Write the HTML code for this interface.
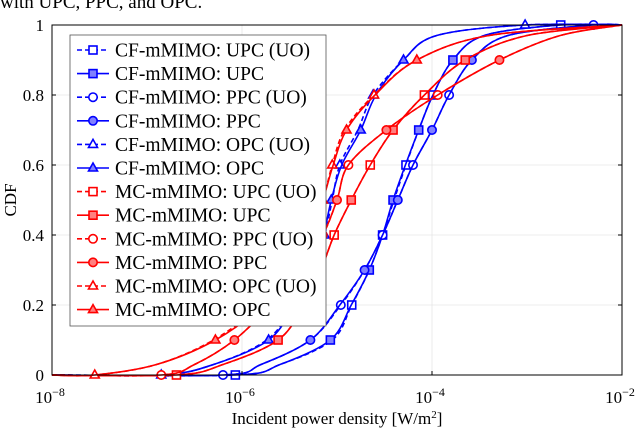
<!DOCTYPE html>
<html><head><meta charset="utf-8"><style>
body{margin:0;background:#fff;width:640px;height:433px;overflow:hidden}
svg text{font-family:"Liberation Serif",serif;fill:#000}
</style></head><body>
<svg id="chart" width="640" height="433" viewBox="0 0 640 433" xmlns="http://www.w3.org/2000/svg">
<text x="0" y="8" font-size="19">with UPC, PPC, and OPC.</text>
<g id="grid"></g>
<g id="series"></g>
<rect x="52" y="25" width="570" height="350" fill="none" stroke="#000" stroke-width="1"/>
<g id="axes"></g>
<text x="337" y="424" font-size="17" text-anchor="middle">Incident power density [W/m<tspan font-size="11" dy="-6">2</tspan><tspan dy="6">]</tspan></text>
<text x="0" y="0" font-size="17" text-anchor="middle" transform="translate(16,200) rotate(-90)">CDF</text>
<g id="legend"></g>
</svg>
<script>
const levels=[0,0.03,0.1,0.2,0.3,0.4,0.5,0.6,0.7,0.8,0.9,0.97,1];
const seriesNames=["CF-mMIMO: UPC (UO)","CF-mMIMO: UPC","CF-mMIMO: PPC (UO)","CF-mMIMO: PPC","CF-mMIMO: OPC (UO)","CF-mMIMO: OPC","MC-mMIMO: UPC (UO)","MC-mMIMO: UPC","MC-mMIMO: PPC (UO)","MC-mMIMO: PPC","MC-mMIMO: OPC (UO)","MC-mMIMO: OPC"];
const cfUpcUO=[-6.07,-5.6,-5.05,-4.845,-4.66,-4.52,-4.40,-4.274,-4.14,-3.99,-3.78,-3.45,-2.645];
const cfUpc=[-6.07,-5.6,-5.07,-4.85,-4.66,-4.52,-4.41,-4.28,-4.14,-3.99,-3.78,-3.45,-2.645];
const cfPpcUO=[-6.2,-5.8,-5.28,-4.96,-4.71,-4.52,-4.36,-4.2,-4.0,-3.82,-3.58,-3.2,-2.3];
const cfPpc=[-6.2,-5.8,-5.28,-4.97,-4.71,-4.52,-4.36,-4.2,-4.0,-3.82,-3.58,-3.2,-2.3];
const cfOpcUO=[-6.85,-6.3,-5.74,-5.45,-5.25,-5.13,-5.05,-4.97,-4.78,-4.62,-4.3,-3.95,-3.02];
const cfOpc=[-6.85,-6.3,-5.72,-5.45,-5.24,-5.14,-5.06,-4.95,-4.75,-4.59,-4.3,-3.95,-3.02];
const mcUpcUO=[-6.69,-6.2,-5.62,-5.35,-5.17,-5.03,-4.85,-4.65,-4.41,-4.08,-3.65,-3.0,-2.0];
const mcUpc=[-6.69,-6.2,-5.62,-5.35,-5.17,-5.03,-4.85,-4.65,-4.41,-4.08,-3.65,-3.0,-2.0];
const mcPpcUO=[-6.85,-6.5,-6.08,-5.7,-5.4,-5.15,-5.0,-4.88,-4.48,-3.94,-3.29,-2.65,-2.0];
const mcPpc=[-6.85,-6.5,-6.08,-5.7,-5.4,-5.15,-5.0,-4.88,-4.48,-3.94,-3.29,-2.65,-2.0];
const mcOpcUO=[-7.55,-6.9,-6.3,-5.8,-5.5,-5.3,-5.15,-5.05,-4.92,-4.61,-4.16,-3.4,-2.0];
const mcOpc=[-7.55,-6.9,-6.28,-5.78,-5.5,-5.3,-5.15,-5.04,-4.9,-4.6,-4.16,-3.4,-2.0];
const yTicks=[0,0.2,0.4,0.6,0.8,1];
const yTickLabels=["0","0.2","0.4","0.6","0.8","1"];
const xTicks=[-8,-6,-4,-2];

const NS="http://www.w3.org/2000/svg";
const X0=52,X1=622,Y0=375,Y1=25;
const xs=v=>X0+(v+8)/6*(X1-X0);
const ys=v=>Y0-v*(Y0-Y1);
function mk(tag,attrs,parent){const e=document.createElementNS(NS,tag);for(const k in attrs)e.setAttribute(k,attrs[k]);parent.appendChild(e);return e;}
const grid=document.getElementById('grid'),axes=document.getElementById('axes'),ser=document.getElementById('series'),leg=document.getElementById('legend');
yTicks.forEach((t,i)=>{
  const g=mk('line',{x1:X0,x2:X1,y1:ys(t),y2:ys(t),stroke:'#e6e6e6','stroke-width':0.8},grid);
  
  
  const a=mk('line',{x1:X0,x2:X0+4,y1:ys(t),y2:ys(t),stroke:'#000'},axes);
  
  
  const b=mk('line',{x1:X1-4,x2:X1,y1:ys(t),y2:ys(t),stroke:'#000'},axes);
  
  
  const l=mk('text',{x:X0-8,y:ys(t)+6,'font-size':17,'text-anchor':'end'},axes);
  l.textContent=yTickLabels[i];
  
  
});
xTicks.forEach(t=>{
  const g=mk('line',{x1:xs(t),x2:xs(t),y1:Y0,y2:Y1,stroke:'#e6e6e6','stroke-width':0.8},grid);
  
  
  const a=mk('line',{x1:xs(t),x2:xs(t),y1:Y0,y2:Y0-4,stroke:'#000'},axes);
  
  
  const l=mk('text',{x:xs(t)-2,y:Y0+28,'font-size':17,'text-anchor':'middle'},axes);
  l.innerHTML='10<tspan font-size="12" dy="-7">−'+(-t)+'</tspan>';
  
  
});
const defs=[
 [cfUpcUO,'#0000ff',true,'sq',false],[cfUpc,'#0000ff',false,'sq',true],
 [cfPpcUO,'#0000ff',true,'ci',false],[cfPpc,'#0000ff',false,'ci',true],
 [cfOpcUO,'#0000ff',true,'tr',false],[cfOpc,'#0000ff',false,'tr',true],
 [mcUpcUO,'#ff0000',true,'sq',false],[mcUpc,'#ff0000',false,'sq',true],
 [mcPpcUO,'#ff0000',true,'ci',false],[mcPpc,'#ff0000',false,'ci',true],
 [mcOpcUO,'#ff0000',true,'tr',false],[mcOpc,'#ff0000',false,'tr',true]];
function marker(shape,x,y,col,filled,parent){
  const fill=filled?(col==='#0000ff'?'#8080ff':'#ff8080'):'#fff';
  let e;
  if(shape==='sq')e=mk('rect',{x:x-4,y:y-4,width:8,height:8,fill:fill,stroke:col,'stroke-width':1.6},parent);
  else if(shape==='ci')e=mk('circle',{cx:x,cy:y,r:4.2,fill:fill,stroke:col,'stroke-width':1.6},parent);
  else e=mk('polygon',{points:`${x},${y-5} ${x-4.5},${y+3} ${x+4.5},${y+3}`,fill:fill,stroke:col,'stroke-width':1.6},parent);
  return e;
}
function smoothPath(p){
  let d=`M${p[0][0]},${p[0][1]}`;
  for(let i=0;i<p.length-1;i++){
    const p0=p[Math.max(i-1,0)],p1=p[i],p2=p[i+1],p3=p[Math.min(i+2,p.length-1)];
    const c1=[p1[0]+(p2[0]-p0[0])/6,p1[1]+(p2[1]-p0[1])/6];
    const c2=[p2[0]-(p3[0]-p1[0])/6,p2[1]-(p3[1]-p1[1])/6];
    d+=` C${c1[0]},${c1[1]} ${c2[0]},${c2[1]} ${p2[0]},${p2[1]}`;
  }
  return d;
}
const markerLevelsUO=[0,0.2,0.4,0.6,0.8,1];
const markerLevelsSolid=[0.1,0.3,0.5,0.7,0.9];
defs.forEach((s,i)=>{
  const [vals,col,dash,shape,filled]=s;
  const g=mk('g',{},ser);
  
  
  const pts=vals.map((v,j)=>[xs(v),ys(levels[j])]);
  if(vals[vals.length-1]<-2)pts.push([X1,ys(1)]);
  pts.unshift([X0,ys(0)]);
  const p=mk('path',{d:smoothPath(pts),fill:'none',stroke:col,'stroke-width':1.6,'stroke-dasharray':dash?'5,3':'none'},g);
  
  
  (dash?markerLevelsUO:markerLevelsSolid).forEach(lv=>{
    const j=levels.indexOf(lv);
    if(lv===1&&vals[j]>=-2)return;
    const m=marker(shape,xs(vals[j]),ys(lv),col,filled,g);
    
    
  });
});
const lb=mk('rect',{x:70,y:35,width:256,height:291,fill:'#fff',stroke:'#555','stroke-width':0.8},leg);


defs.forEach((s,i)=>{
  const [vals,col,dash,shape,filled]=s;
  const y=50+i*23.6;
  const g=mk('g',{},leg);
  
  
  mk('line',{x1:77,x2:109,y1:y,y2:y,stroke:col,'stroke-width':1.6,'stroke-dasharray':dash?'5,3':'none'},g);
  marker(shape,93,y,col,filled,g);
  const t=mk('text',{x:115,y:y+6.5,'font-size':19.5},g);
  t.textContent=seriesNames[i];
});
</script>
</body></html>
